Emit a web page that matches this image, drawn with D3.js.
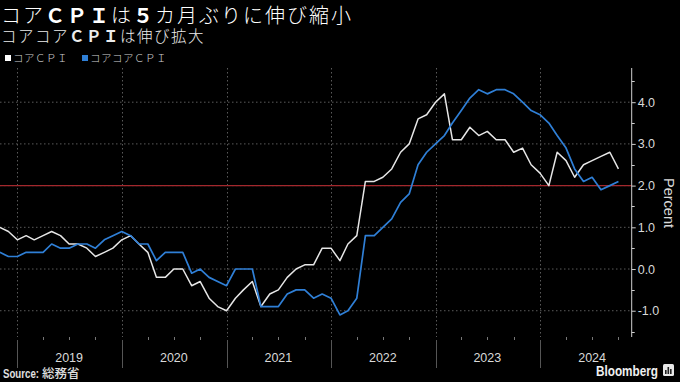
<!DOCTYPE html>
<html>
<head>
<meta charset="utf-8">
<script src="https://cdn.jsdelivr.net/npm/d3@7"></script>
<style>
  html, body { margin: 0; padding: 0; background: #000; }
  svg { display: block; }
</style>
</head>
<body>
<svg id="chart" width="680" height="382"></svg>
<script>
// ---- Data (monthly, Oct 2018 – Sep 2024, y/y %) ----
const startMonth = "2018-10";
const coreCPI = [
  1.0, 0.9, 0.7,
  0.8, 0.7, 0.8, 0.9, 0.8, 0.6, 0.6, 0.5, 0.3, 0.4, 0.5, 0.7,
  0.8, 0.6, 0.4, -0.2, -0.2, 0.0, 0.0, -0.4, -0.3, -0.7, -0.9, -1.0,
  -0.7, -0.5, -0.3, -0.9, -0.6, -0.5, -0.2, 0.0, 0.1, 0.1, 0.5, 0.5,
  0.2, 0.6, 0.8, 2.1, 2.1, 2.2, 2.4, 2.8, 3.0, 3.6, 3.7, 4.0,
  4.2, 3.1, 3.1, 3.4, 3.2, 3.3, 3.1, 3.1, 2.8, 2.9, 2.5, 2.3,
  2.0, 2.8, 2.6, 2.2, 2.5, 2.6, 2.7, 2.8, 2.4
];
const coreCoreCPI = [
  0.4, 0.3, 0.3,
  0.4, 0.4, 0.4, 0.6, 0.5, 0.5, 0.6, 0.6, 0.5, 0.7, 0.8, 0.9,
  0.8, 0.6, 0.6, 0.2, 0.4, 0.4, 0.4, -0.1, 0.0, -0.2, -0.3, -0.4,
  0.0, 0.0, 0.0, -0.9, -0.9, -0.9, -0.6, -0.5, -0.5, -0.7, -0.6, -0.7,
  -1.1, -1.0, -0.7, 0.8, 0.8, 1.0, 1.2, 1.6, 1.8, 2.5, 2.8, 3.0,
  3.2, 3.5, 3.8, 4.1, 4.3, 4.2, 4.3, 4.3, 4.2, 4.0, 3.8, 3.7,
  3.5, 3.2, 2.9, 2.4, 2.1, 2.2, 1.9, 2.0, 2.1
];
const seriesNames = ["コアＣＰＩ", "コアコアＣＰＩ"];
const yTicks = [-1, 0, 1, 2, 3, 4];
const yearLabels = [2019, 2020, 2021, 2022, 2023, 2024];
const targetValue = 2.0;
const titleText = [["コア", false], ["ＣＰＩ", true], ["は", false], ["５", true], ["カ月ぶりに伸び縮小", false]];
const subtitleText = [["コアコア", false], ["ＣＰＩ", true], ["は伸び拡大", false]];
const sourceText = "Source: 総務省";

// ---- Setup ----
const svg = d3.select("#chart");
svg.append("rect").attr("width", 680).attr("height", 382).attr("fill", "#000");

const plot = { left: 0, right: 631.7, top: 68, bottom: 337 };
const parseM = d3.timeParse("%Y-%m");
const start = parseM(startMonth);
// each monthly value plotted at month end (= start of next month)
const dates = coreCPI.map((_, i) => new Date(start.getFullYear(), start.getMonth() + i + 1, 1));

const x = d3.scaleTime()
  .domain([new Date(2019, 0, 1), new Date(2024, 0, 1)])
  .range([17.3, 540]);
const y = d3.scaleLinear().domain([-1.63, 4.82]).range([plot.bottom, plot.top]);

const cjk = "'Noto Sans CJK JP', 'Noto Sans', sans-serif";
const sans = "'Liberation Sans', 'Noto Sans CJK JP', Arial, sans-serif";

// clip
svg.append("defs").append("clipPath").attr("id", "clip")
  .append("rect").attr("x", plot.left).attr("y", plot.top)
  .attr("width", plot.right - plot.left).attr("height", plot.bottom - plot.top);

// horizontal gridlines
svg.append("g").selectAll("line").data(yTicks).join("line")
  .attr("x1", plot.left).attr("x2", plot.right)
  .attr("y1", d => y(d)).attr("y2", d => y(d))
  .attr("stroke", "#5a5a5a").attr("stroke-width", 1).attr("stroke-dasharray", "1.5,2.5");

// vertical year gridlines
const yearStarts = yearLabels.map(yr => new Date(yr, 0, 1));
svg.append("g").selectAll("line").data(yearStarts).join("line")
  .attr("x1", d => Math.round(x(d)) + 0.5).attr("x2", d => Math.round(x(d)) + 0.5)
  .attr("y1", plot.top).attr("y2", plot.bottom)
  .attr("stroke", "#5a5a5a").attr("stroke-width", 1).attr("stroke-dasharray", "1.5,2.5");

// year separators below plot
svg.append("g").selectAll("line").data(yearStarts).join("line")
  .attr("x1", d => Math.round(x(d)) + 0.5).attr("x2", d => Math.round(x(d)) + 0.5)
  .attr("y1", plot.bottom + 3).attr("y2", 368)
  .attr("stroke", "#555").attr("stroke-width", 1);

// quarterly ticks at bottom
const quarterTicks = d3.timeMonth.every(3).range(new Date(2018, 11, 1), new Date(2024, 10, 15))
  .filter(d => d.getMonth() !== 0);
svg.append("g").selectAll("line").data(quarterTicks).join("line")
  .attr("x1", d => Math.round(x(d)) + 0.5).attr("x2", d => Math.round(x(d)) + 0.5)
  .attr("y1", plot.bottom).attr("y2", plot.bottom + 3)
  .attr("stroke", "#777").attr("stroke-width", 1);

// year labels
svg.append("g").selectAll("text").data(yearLabels).join("text")
  .attr("x", d => x(new Date(d, 6, 1)))
  .attr("y", 362)
  .attr("text-anchor", "middle")
  .attr("fill", "#d9d9d9")
  .attr("font-family", sans).attr("font-size", 12.5)
  .text(d => d);

// target line at 2%
svg.append("line")
  .attr("x1", plot.left).attr("x2", plot.right)
  .attr("y1", y(targetValue)).attr("y2", y(targetValue))
  .attr("stroke", "#a3282d").attr("stroke-width", 1.3);

// right y axis
const yAxis = d3.axisRight(y).tickValues(yTicks).tickSize(4).tickPadding(2)
  .tickFormat(d3.format(".1f"));
const gy = svg.append("g").attr("transform", `translate(${plot.right},0)`).call(yAxis);
gy.select(".domain").remove();
gy.selectAll(".tick line").attr("stroke", "#cfcfcf");
gy.selectAll(".tick text").attr("fill", "#d9d9d9").attr("font-family", sans).attr("font-size", 12.5)
  .text(d => d3.format(".1f")(d).replace("−", "-"));
svg.append("line").attr("x1", plot.right).attr("x2", plot.right)
  .attr("y1", plot.top).attr("y2", plot.bottom).attr("stroke", "#cfcfcf").attr("stroke-width", 1);
// minor ticks
const minor = [-1.5, -0.5, 0.5, 1.5, 2.5, 3.5, 4.5];
svg.append("g").selectAll("line").data(minor).join("line")
  .attr("x1", plot.right).attr("x2", plot.right + 3)
  .attr("y1", d => Math.round(y(d)) + 0.5).attr("y2", d => Math.round(y(d)) + 0.5)
  .attr("stroke", "#cfcfcf");

// axis title
svg.append("text")
  .attr("transform", `translate(664,203) rotate(90)`)
  .attr("text-anchor", "middle")
  .attr("fill", "#d9d9d9").attr("font-family", sans).attr("font-size", 14.5)
  .text("Percent");

// lines
const line = d3.line().x((d, i) => x(dates[i])).y(d => y(d));
const gLines = svg.append("g").attr("clip-path", "url(#clip)");
gLines.append("path").datum(coreCPI).attr("d", line)
  .attr("fill", "none").attr("stroke", "#e6e6e6").attr("stroke-width", 1.5)
  .attr("stroke-linejoin", "round");
gLines.append("path").datum(coreCoreCPI).attr("d", line)
  .attr("fill", "none").attr("stroke", "#2f7fd6").attr("stroke-width", 1.7)
  .attr("stroke-linejoin", "round");

// title
function richText(parts, xPos, yPos, size, spacing, color) {
  const t = svg.append("text").attr("x", xPos).attr("y", yPos)
    .attr("fill", color).attr("font-family", cjk).attr("font-size", size)
    .attr("letter-spacing", spacing);
  parts.forEach(([s, b]) => t.append("tspan").attr("font-weight", b ? 700 : 300).text(s));
  return t;
}
richText(titleText, 1, 22.5, 20, 2, "#ffffff");
richText(subtitleText, 1, 42, 15.5, 1.5, "#ececec");

// legend
const legendColors = ["#ffffff", "#2f7fd6"];
const legendX = [5, 82];
seriesNames.forEach((name, i) => {
  svg.append("rect").attr("x", legendX[i]).attr("y", 55).attr("width", 6).attr("height", 6)
    .attr("fill", legendColors[i]);
  svg.append("text").attr("x", legendX[i] + 8).attr("y", 62)
    .attr("fill", "#d0d0d0").attr("font-family", cjk).attr("font-size", 10.5)
    .attr("letter-spacing", 0.5)
    .attr("font-weight", 300)
    .text(name);
});

// footer
svg.append("text").attr("x", 3).attr("y", 378)
  .attr("fill", "#e0e0e0").attr("font-family", sans).attr("font-size", 12).attr("font-weight", 700)
  .attr("textLength", 36).attr("lengthAdjust", "spacingAndGlyphs")
  .text("Source:");
svg.append("text").attr("x", 42).attr("y", 378)
  .attr("fill", "#e0e0e0").attr("font-family", cjk).attr("font-size", 12.5).attr("font-weight", 500)
  .text(sourceText.split(": ")[1]);

svg.append("text").attr("x", 596).attr("y", 376)
  .attr("fill", "#f0f0f0").attr("font-family", sans).attr("font-size", 15).attr("font-weight", 700)
  .attr("textLength", 62).attr("lengthAdjust", "spacingAndGlyphs")
  .text("Bloomberg");
// small logo icon
const logo = svg.append("g").attr("transform", "translate(663,364)");
logo.append("rect").attr("width", 11).attr("height", 12).attr("rx", 1.5).attr("fill", "#e8e8e8");
const bars = [[2, 6, 4], [4.5, 3, 7], [7, 5, 5]];
bars.forEach(([bx, by, bh]) => logo.append("rect").attr("x", bx).attr("y", by).attr("width", 1.6).attr("height", bh).attr("fill", "#222"));
</script>
</body>
</html>
